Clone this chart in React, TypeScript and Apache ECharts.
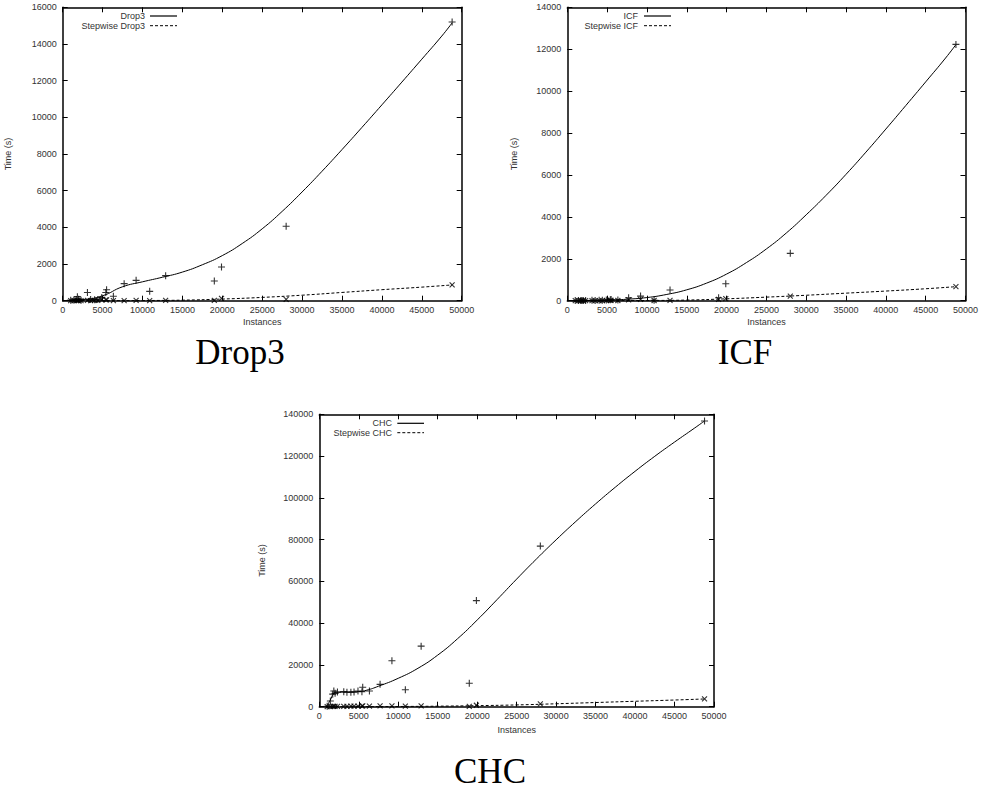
import React, { useEffect, useRef } from "react";
import * as echarts from "echarts";

// Dataset sizes (x values shared by the three plots)
const instances = [1000, 1400, 1700, 1840, 2000, 2300, 3100, 3500, 4000, 4400, 4900, 5400, 5500, 6350, 7700, 9200, 10900, 12900, 19000, 19900, 28000, 48800];

// Drop3
const drop3Times = [20, 40, 60, 220, 80, 30, 450, 60, 50, 70, 180, 450, 600, 240, 930, 1110, 510, 1365, 1075, 1840, 4060, 15200];
const stepwiseDrop3Times = [5, 5, 10, 20, 10, 10, 20, 10, 15, 20, 60, 40, 50, 10, 10, 15, 10, 20, 20, 130, 70, 860];
const drop3Fit = [[500, 20], [2500, 60], [5000, 270], [7500, 760], [10000, 1030], [12500, 1280], [15000, 1560], [17500, 1960], [20000, 2460], [22500, 3120], [25000, 3920], [27500, 4870], [30000, 5930], [32500, 7060], [35000, 8240], [37500, 9450], [40000, 10680], [42500, 11920], [45000, 13170], [47500, 14430], [48800, 15150]];
const stepwiseDrop3Fit = [[500, 0], [5000, 3], [10000, 10], [15000, 30], [20000, 90], [25000, 180], [30000, 300], [35000, 450], [40000, 600], [45000, 740], [48800, 860]];

// ICF
const icfTimes = [5, 8, 10, 12, 15, 10, 20, 15, 20, 25, 30, 40, 60, 30, 140, 220, 20, 510, 140, 810, 2260, 12230];
const stepwiseIcfTimes = [2, 3, 4, 5, 5, 4, 6, 5, 6, 8, 10, 12, 15, 10, 40, 60, 10, 20, 60, 100, 220, 670];
const icfFit = [[500, 0], [2500, 5], [5000, 25], [7500, 70], [10000, 150], [12500, 300], [15000, 520], [17500, 840], [20000, 1270], [22500, 1820], [25000, 2470], [27500, 3230], [30000, 4100], [32500, 5030], [35000, 6030], [37500, 7090], [40000, 8190], [42500, 9310], [45000, 10440], [47500, 11580], [48800, 12220]];
const stepwiseIcfFit = [[500, 0], [5000, 3], [10000, 10], [15000, 30], [20000, 90], [25000, 170], [30000, 260], [35000, 360], [40000, 460], [45000, 570], [48800, 670]];

// CHC
const chcTimes = [200, 2700, 6000, 7500, 6400, 7000, 7200, 6900, 6900, 7000, 7500, 7200, 9300, 7500, 10700, 22000, 8100, 29000, 11200, 50800, 76900, 136800];
const stepwiseChcTimes = [50, 100, 150, 200, 150, 150, 200, 200, 250, 250, 300, 300, 400, 300, 350, 400, 300, 400, 200, 700, 1300, 3700];
const chcFit = [[900, 0], [1400, 3200], [1800, 6200], [2200, 6900], [3000, 7000], [4000, 7100], [5000, 7250], [6000, 7900], [7500, 9800], [10000, 13600], [12500, 18400], [15000, 24700], [17500, 32500], [20000, 41500], [22500, 51200], [25000, 61100], [27500, 70700], [30000, 79900], [32500, 88700], [35000, 97100], [37500, 105100], [40000, 112700], [42500, 119900], [45000, 126700], [47500, 133300], [48800, 136800]];
const stepwiseChcFit = [[800, 0], [5000, 40], [10000, 100], [15000, 250], [20000, 500], [25000, 850], [30000, 1400], [35000, 2000], [40000, 2600], [45000, 3200], [48800, 3700]];

// Axis ranges
const xMax = 50000;
const xStep = 5000;
const yMaxes = [16000, 14000, 140000];
const ySteps = [2000, 2000, 20000];

const panelNames = ["Drop3", "ICF", "CHC"];
const legendNames = [["Drop3", "Stepwise Drop3"], ["ICF", "Stepwise ICF"], ["CHC", "Stepwise CHC"]];

const PLUS = "path://M0,5L10,5M5,0L5,10";
const CROSS = "path://M0,0L10,10M0,10L10,0";

const zip = (xs: number[], ys: number[]) => xs.map((x, i) => [x, ys[i]]);

const SANS = "Liberation Sans, Arial, sans-serif";
const SERIF = "Liberation Serif, Times New Roman, serif";

export default function App() {
  const ref = useRef<HTMLDivElement>(null);

  useEffect(() => {
    if (!ref.current) return;
    const chart = echarts.init(ref.current, undefined, { renderer: "svg" });

    const grids = [
      { left: 62.7, top: 7.3, width: 399, height: 293.4 },
      { left: 567.3, top: 7.3, width: 400, height: 293.4 },
      { left: 319.3, top: 414.3, width: 394.7, height: 292.4 },
    ];
    const yNameGaps = [50, 49, 53];
    const xNameGaps = [17, 17, 19];
    const plain = (v: number) => String(v);

    const xAxes: any[] = [];
    const yAxes: any[] = [];
    grids.forEach((g, i) => {
      const common = {
        type: "value",
        gridIndex: i,
        min: 0,
        splitLine: { show: false },
        axisLine: { show: true, onZero: false, lineStyle: { color: "#000", width: 1.5 } },
        axisTick: { show: true, inside: true, length: 5, lineStyle: { color: "#000", width: 1 } },
      };
      xAxes.push({
        ...common,
        position: "bottom",
        max: xMax,
        interval: xStep,
        name: "Instances",
        nameLocation: "middle",
        nameGap: xNameGaps[i],
        nameTextStyle: { fontFamily: SANS, fontSize: 9, color: "#333" },
        axisLabel: { show: true, fontFamily: SANS, fontSize: 9, color: "#333", margin: 5, formatter: plain },
      });
      xAxes.push({
        ...common,
        position: "top",
        max: xMax,
        interval: xStep,
        axisLabel: { show: false },
      });
      yAxes.push({
        ...common,
        position: "left",
        max: yMaxes[i],
        interval: ySteps[i],
        name: "Time (s)",
        nameLocation: "middle",
        nameRotate: 90,
        nameGap: yNameGaps[i],
        nameTextStyle: { fontFamily: SANS, fontSize: 9, color: "#333" },
        axisLabel: { show: true, fontFamily: SANS, fontSize: 9, color: "#333", margin: 6, formatter: plain },
      });
      yAxes.push({
        ...common,
        position: "right",
        max: yMaxes[i],
        interval: ySteps[i],
        axisLabel: { show: false },
      });
    });

    const panels = [
      { pts: drop3Times, spts: stepwiseDrop3Times, fit: drop3Fit, sfit: stepwiseDrop3Fit },
      { pts: icfTimes, spts: stepwiseIcfTimes, fit: icfFit, sfit: stepwiseIcfFit },
      { pts: chcTimes, spts: stepwiseChcTimes, fit: chcFit, sfit: stepwiseChcFit },
    ];

    const series: any[] = [];
    panels.forEach((p, i) => {
      const axes = { xAxisIndex: 2 * i, yAxisIndex: 2 * i };
      series.push({
        type: "line",
        name: legendNames[i][0],
        ...axes,
        data: p.fit,
        smooth: 0.5,
        symbol: "none",
        lineStyle: { color: "#000", width: 1 },
        silent: true,
      });
      series.push({
        type: "line",
        name: legendNames[i][1],
        ...axes,
        data: p.sfit,
        smooth: 0.5,
        symbol: "none",
        lineStyle: { color: "#000", width: 1, type: [3, 2] },
        silent: true,
      });
      series.push({
        type: "scatter",
        name: legendNames[i][0] + " points",
        ...axes,
        data: zip(instances, p.pts),
        symbol: PLUS,
        symbolSize: 7,
        itemStyle: { color: "transparent", borderColor: "#000", borderWidth: 1.1 },
        silent: true,
      });
      series.push({
        type: "scatter",
        name: legendNames[i][1] + " points",
        ...axes,
        data: zip(instances, p.spts),
        symbol: CROSS,
        symbolSize: 5,
        itemStyle: { color: "transparent", borderColor: "#000", borderWidth: 1.1 },
        silent: true,
      });
    });

    // Legend boxes (text right-aligned, line sample to the right)
    const legendPos = [
      { tx: 145, y1: 16, y2: 25.7, lx1: 150, lx2: 177 },
      { tx: 638, y1: 16, y2: 25.7, lx1: 644, lx2: 671 },
      { tx: 392, y1: 423.3, y2: 432.7, lx1: 397.3, lx2: 424 },
    ];
    const graphic: any[] = [];
    legendPos.forEach((l, i) => {
      graphic.push({
        type: "text",
        x: l.tx,
        y: l.y1,
        style: { text: legendNames[i][0], fontFamily: SANS, fontSize: 9, fill: "#333", textAlign: "right", textVerticalAlign: "middle" },
      });
      graphic.push({
        type: "text",
        x: l.tx,
        y: l.y2,
        style: { text: legendNames[i][1], fontFamily: SANS, fontSize: 9, fill: "#333", textAlign: "right", textVerticalAlign: "middle" },
      });
      graphic.push({
        type: "line",
        shape: { x1: l.lx1, y1: l.y1, x2: l.lx2, y2: l.y1 },
        style: { stroke: "#000", lineWidth: 1.2 },
      });
      graphic.push({
        type: "line",
        shape: { x1: l.lx1, y1: l.y2, x2: l.lx2, y2: l.y2 },
        style: { stroke: "#000", lineWidth: 1, lineDash: [3, 2] },
      });
    });

    const titlePos = [
      { x: 240, y: 352 },
      { x: 745, y: 352 },
      { x: 490, y: 771 },
    ];
    titlePos.forEach((t, i) => {
      graphic.push({
        type: "text",
        x: t.x,
        y: t.y,
        style: { text: panelNames[i], fontFamily: SERIF, fontSize: 35, fill: "#000", textAlign: "center", textVerticalAlign: "middle" },
      });
    });

    chart.setOption({
      animation: false,
      backgroundColor: "#fff",
      grid: grids.map((g) => ({ ...g, containLabel: false })),
      xAxis: xAxes,
      yAxis: yAxes,
      series,
      graphic,
    });

    return () => chart.dispose();
  }, []);

  return (
    <div
      ref={ref}
      style={{ position: "absolute", left: 0, top: 0, width: 981, height: 803, background: "#fff" }}
    />
  );
}
